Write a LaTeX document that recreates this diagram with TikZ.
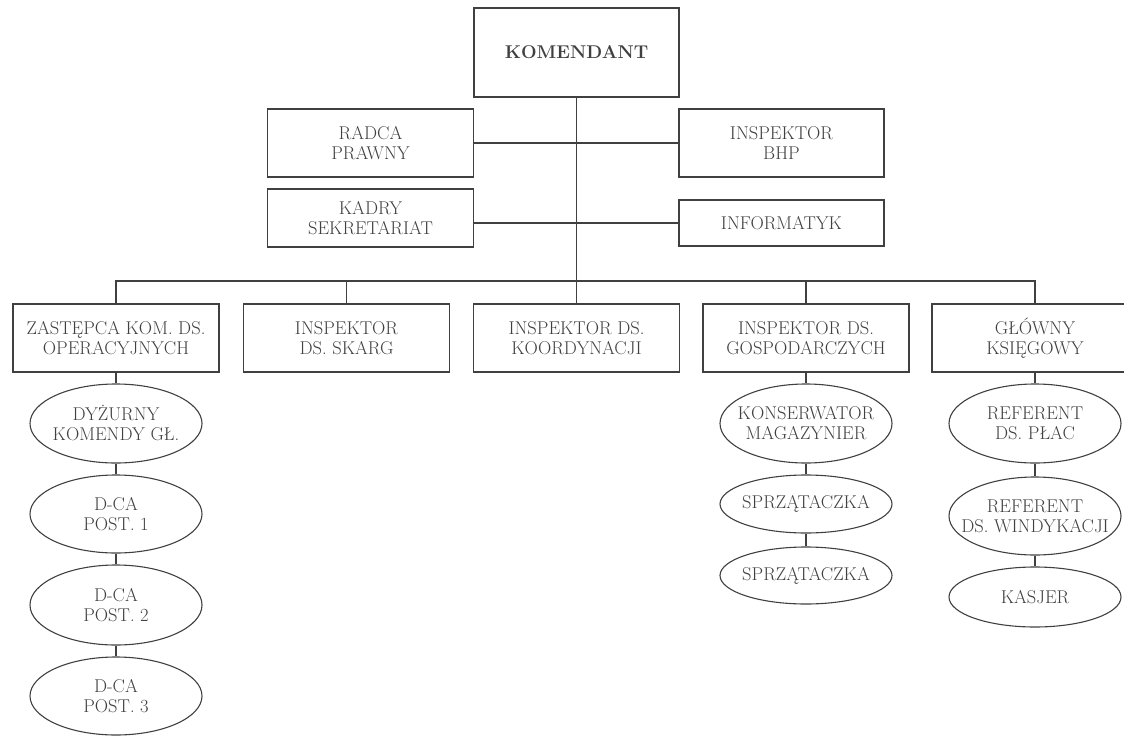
\documentclass[tikz,border=0pt]{standalone}
\usepackage{fontspec}
\usetikzlibrary{shapes.geometric}
\definecolor{ink}{gray}{0.25}
\tikzset{
  unit/.style={draw=ink,line width=1.1pt,text=ink,align=center,inner sep=0pt,
    font=\fontsize{18.5}{20}\selectfont},
  box/.style={unit,rectangle,minimum width=206pt,minimum height=68pt},
  oval/.style={unit,ellipse,minimum width=172pt,inner xsep=-40pt,inner ysep=0pt},
  link/.style={draw=ink,line width=1.1pt}
}
\begin{document}
\begin{tikzpicture}[x=1pt,y=-1pt]
    \useasboundingbox (0,0) rectangle (1124,736);
      \node[box,minimum width=205pt,minimum height=89pt,font=\fontsize{18.5}{20}\selectfont\bfseries]
        (kom) at (576.5,52.5) {KOMENDANT};
      \node[box] (radca) at (370.5,143) {RADCA\\PRAWNY};
      \node[box,minimum width=205pt] (bhp) at (781.5,143) {INSPEKTOR\\BHP};
      \node[box,minimum height=58pt] (kadry) at (370.5,218) {KADRY\\SEKRETARIAT};
      \node[box,minimum width=205pt,minimum height=46pt] (info) at (781.5,223) {INFORMATYK};
      \foreach \n/\x/\t in {%
        z1/116/{ZASTĘPCA KOM. DS.\\OPERACYJNYCH},
        z2/346.5/{INSPEKTOR\\DS. SKARG},
        z3/576.5/{INSPEKTOR DS.\\KOORDYNACJI},
        z4/806/{INSPEKTOR DS.\\GOSPODARCZYCH},
        z5/1035/{GŁÓWNY\\KSIĘGOWY}}{%
          \node[box] (\n) at (\x,338) {\t};
        }
      \foreach \n/\x/\y/\h/\t in {%
        d0/116/423.5/79/{DYŻURNY\\KOMENDY GŁ.},
        d1/116/514/78/{D-CA\\POST. 1},
        d2/116/605/80/{D-CA\\POST. 2},
        d3/116/696/78/{D-CA\\POST. 3},
        g0/806/423.5/79/{KONSERWATOR\\MAGAZYNIER},
        g1/806/504/58/{SPRZĄTACZKA},
        g2/806/575.5/57/{SPRZĄTACZKA},
        k0/1035/423.5/79/{REFERENT\\DS. PŁAC},
        k1/1035/516/78/{REFERENT\\DS. WINDYKACJI},
        k2/1035/597/60/{KASJER}}{%
          \node[oval,minimum height=\h pt] (\n) at (\x,\y) {\t};
        }
      \coordinate (bus) at (576.5,281);
      \draw[link] (kom) -- (z3);
      \draw[link] (radca) -- (bhp);
      \draw[link] (info) -- (info-|kadry.east);
      \draw[link] (z1.north) |- (bus) -| (z5.north);
      \draw[link] (z2.north) -- (z2.north|-bus);
      \draw[link] (z4.north) -- (z4.north|-bus);
      \foreach \a/\b in {z1/d0,d0/d1,d1/d2,d2/d3,z4/g0,g0/g1,g1/g2,z5/k0,k0/k1,k1/k2}{%
        \draw[link] (\a) -- (\b);
      }
    \end{tikzpicture}
\end{document}
